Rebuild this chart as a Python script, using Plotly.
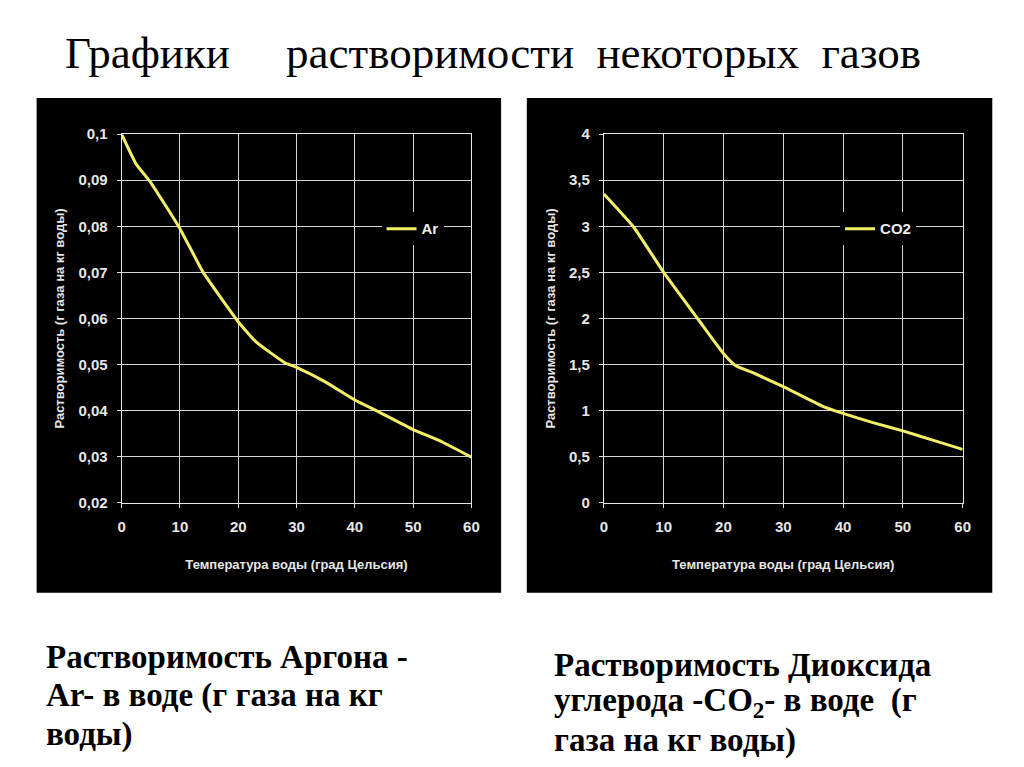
"""Solubility of argon and CO2 in water vs temperature: two black-panel charts."""

import plotly.graph_objects as go

# Argon: temperature (deg C) -> g gas per kg water
AR_TEMP = [0, 2.5, 5, 10, 14, 20, 23, 28, 30, 35, 40, 44, 50, 55, 60]
AR_SOL = [0.100, 0.0935, 0.0895, 0.0795, 0.0700, 0.0593, 0.0550, 0.0504, 0.0494,
          0.0462, 0.0423, 0.0398, 0.0359, 0.0332, 0.0299]

# CO2: temperature (deg C) -> g gas per kg water
CO2_TEMP = [0, 5, 10, 16, 20, 22, 25, 30, 36.5, 40, 45, 50, 55, 60]
CO2_SOL = [3.35, 2.99, 2.50, 1.97, 1.62, 1.49, 1.41, 1.26, 1.05, 0.97, 0.87, 0.78, 0.68, 0.58]

X_TICKS = [0, 10, 20, 30, 40, 50, 60]
AR_YTICKS = [0.02, 0.03, 0.04, 0.05, 0.06, 0.07, 0.08, 0.09, 0.1]
AR_YLABELS = ["0,02", "0,03", "0,04", "0,05", "0,06", "0,07", "0,08", "0,09", "0,1"]
CO2_YTICKS = [0, 0.5, 1, 1.5, 2, 2.5, 3, 3.5, 4]
CO2_YLABELS = ["0", "0,5", "1", "1,5", "2", "2,5", "3", "3,5", "4"]

TITLE = "Графики &#160;&#160;&#160; растворимости &#160;некоторых &#160;газов"
CAPTION_AR = ["Растворимость Аргона -", "Ar- в воде (г газа на кг", "воды)"]
CAPTION_CO2 = ["Растворимость Диоксида", "углерода -CO<sub>2</sub>- в воде &#160;(г", "газа на кг воды)"]
X_TITLE = "Температура воды (град Цельсия)"
Y_TITLE = "Растворимость (г газа на кг воды)"

W, H = 1024, 767
LINE = "#f2ef66"
GRID = "#d6d6d6"
SANS = "Liberation Sans, Arial"
SERIF = "Liberation Serif, Times New Roman"
TICKFONT = dict(family=SANS, size=15, color="#e6e6e6", weight="bold")
TITLEFONT = dict(family=SANS, size=13, color="#e6e6e6", weight="bold")
LEGFONT = dict(family=SANS, size=15, color="#eeeeee", weight="bold")


def px_x(v):
    return v / W


def px_y(v):
    return 1 - v / H


fig = go.Figure()

fig.add_trace(go.Scatter(
    x=AR_TEMP, y=AR_SOL, mode="lines", name="Ar",
    line=dict(color=LINE, width=3, shape="spline", smoothing=0.4),
    xaxis="x", yaxis="y", legend="legend",
))
fig.add_trace(go.Scatter(
    x=CO2_TEMP, y=CO2_SOL, mode="lines", name="CO2",
    line=dict(color=LINE, width=3, shape="spline", smoothing=0.4),
    xaxis="x2", yaxis="y2", legend="legend2",
))

axis_common = dict(
    showgrid=True, gridcolor=GRID, gridwidth=1,
    showline=True, linecolor="#e6e6e6", linewidth=1, mirror=True,
    ticks="outside", ticklen=4, tickcolor="#e6e6e6", ticklabelstandoff=6,
    zeroline=False, tickfont=TICKFONT, fixedrange=True,
)

y_dom = [px_y(505), px_y(128)]

fig.update_layout(
    width=W, height=H,
    margin=dict(l=0, r=0, t=0, b=0),
    paper_bgcolor="white",
    plot_bgcolor="black",
    showlegend=True,
    xaxis=dict(domain=[px_x(119), px_x(473)], range=[0, 60], tickvals=X_TICKS,
               anchor="y", title=dict(text=X_TITLE, font=TITLEFONT, standoff=26), **axis_common),
    yaxis=dict(domain=y_dom, range=[0.02, 0.1], tickvals=AR_YTICKS, ticktext=AR_YLABELS,
               anchor="x", title=dict(text=Y_TITLE, font=TITLEFONT, standoff=10), **axis_common),
    xaxis2=dict(domain=[px_x(607), px_x(970)], range=[0, 60], tickvals=X_TICKS,
                anchor="y2", title=dict(text=X_TITLE, font=TITLEFONT, standoff=26), **axis_common),
    yaxis2=dict(domain=y_dom, range=[0, 4], tickvals=CO2_YTICKS, ticktext=CO2_YLABELS,
                anchor="x2", title=dict(text=Y_TITLE, font=TITLEFONT, standoff=10), **axis_common),
    legend=dict(x=px_x(382), y=px_y(208), xanchor="left", yanchor="top",
                bgcolor="black", font=LEGFONT, itemwidth=30, tracegroupgap=0),
    legend2=dict(x=px_x(846), y=px_y(208), xanchor="left", yanchor="top",
                 bgcolor="black", font=LEGFONT, itemwidth=30, tracegroupgap=0),
)

# black chart backgrounds
for x0, x1 in [(33, 503), (529, 1000)]:
    fig.add_shape(type="rect", xref="paper", yref="paper", layer="below",
                  x0=px_x(x0), x1=px_x(x1), y0=px_y(597), y1=px_y(91),
                  fillcolor="black", line=dict(width=0))

fig.add_annotation(
    text=TITLE, xref="paper", yref="paper", x=px_x(60), y=px_y(45),
    xanchor="left", yanchor="middle", showarrow=False,
    font=dict(family=SERIF, size=45, color="black"),
)

# captions, one annotation per line to control the line spacing
for lines, x0, y_centres in [(CAPTION_AR, 40, [663, 702, 742]),
                             (CAPTION_CO2, 554, [671, 709, 748])]:
    for text, yc in zip(lines, y_centres):
        fig.add_annotation(
            text=text, xref="paper", yref="paper", x=px_x(x0), y=px_y(yc),
            xanchor="left", yanchor="middle", align="left", showarrow=False,
            font=dict(family=SERIF, size=33, color="black", weight="bold"),
        )

fig.write_html(
    "out.html",
    config={"displayModeBar": False},
    post_script="document.body.style.margin='0';document.body.style.overflow='hidden';",
)
